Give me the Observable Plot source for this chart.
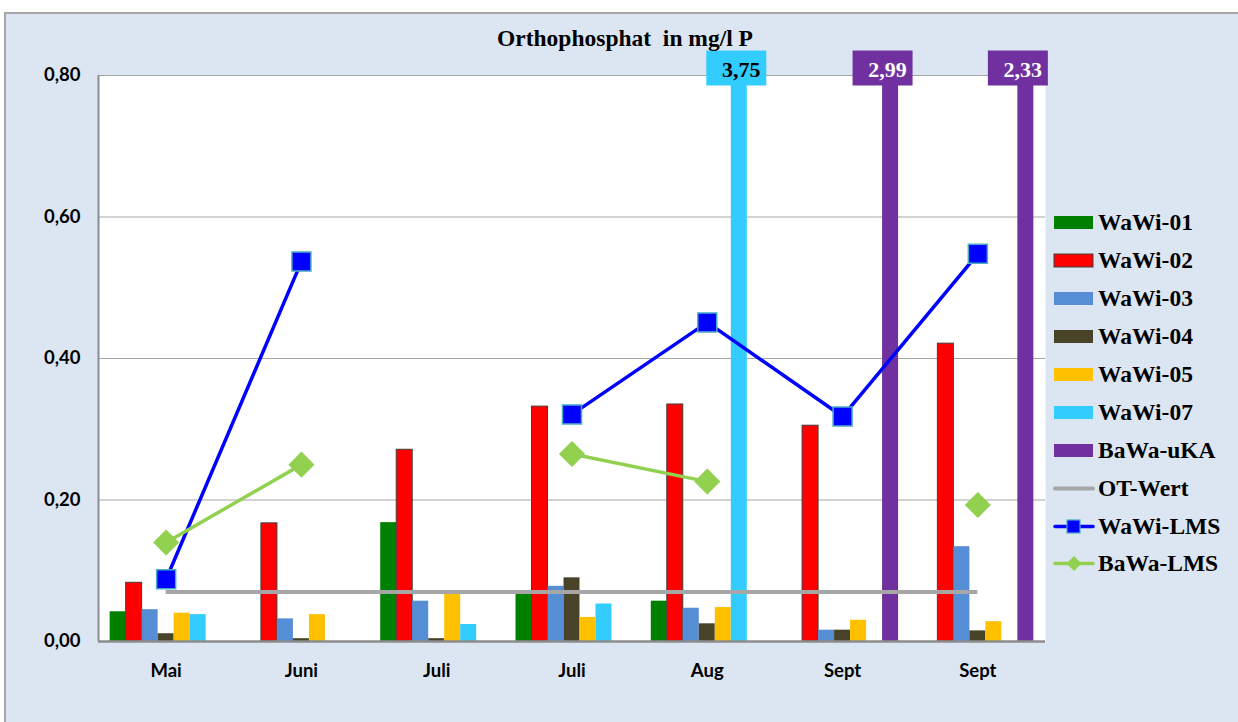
<!DOCTYPE html>
<html><head><meta charset="utf-8">
<script src="https://cdn.jsdelivr.net/npm/d3@7"></script>
<script src="https://cdn.jsdelivr.net/npm/@observablehq/plot@0.6"></script>
<style>
body{margin:0;background:#fff;width:1238px;height:722px;overflow:hidden;position:relative}
#bg{position:absolute;left:4px;top:12px;width:1240px;height:720px;background:#dce6f2;border-left:2px solid #a6a6a6;border-top:2px solid #a6a6a6}
#chart{position:absolute;left:0;top:0}
#title{position:absolute;left:0;width:1250px;top:25px;text-align:center;font:bold 23.5px "Liberation Serif";white-space:pre}
#legend{position:absolute;left:1053px;top:204px;font:bold 23.5px "Liberation Serif";color:#000}
.row{height:37.9px;display:flex;align-items:center}
.row svg{margin-right:3px}
</style></head>
<body>
<div id="bg"></div>
<div id="chart"></div>
<div id="title">Orthophosphat  in mg/l P</div>
<div id="legend"></div>
<script>
const categories = ["Mai", "Juni", "Juli", "Juli", "Aug", "Sept", "Sept"];
const wawi01 = [0.042, null, 0.168, 0.068, 0.057, null, null];
const wawi02 = [0.083, 0.167, 0.271, 0.332, 0.335, 0.305, 0.421];
const wawi03 = [0.045, 0.032, 0.057, 0.078, 0.047, 0.016, 0.134];
const wawi04 = [0.011, 0.004, 0.004, 0.090, 0.025, 0.016, 0.015];
const wawi05 = [0.040, 0.038, 0.067, 0.034, 0.048, 0.030, 0.028];
const wawi07 = [0.038, null, 0.024, 0.053, 3.75, null, null];
const bawaUKA = [null, null, null, null, null, 2.99, 2.33];
const otWert = 0.07;
const wawiLMS = [0.088, 0.537, null, 0.321, 0.451, 0.318, 0.548];
const bawaLMS = [0.14, 0.25, null, 0.265, 0.226, null, 0.193];
const yTicks = [0, 0.2, 0.4, 0.6, 0.8];

const series = [
  {name: "WaWi-01", values: wawi01, fill: "#008000"},
  {name: "WaWi-02", values: wawi02, fill: "#ff0000", stroke: "#404040"},
  {name: "WaWi-03", values: wawi03, fill: "#558ed5"},
  {name: "WaWi-04", values: wawi04, fill: "#494429"},
  {name: "WaWi-05", values: wawi05, fill: "#ffc000"},
  {name: "WaWi-07", values: wawi07, fill: "#33ccff", label: "#000", dx: 0},
  {name: "BaWa-uKA", values: bawaUKA, fill: "#7030a0", label: "#fff", dx: -5}
];
const yMax = 0.8;
const bw = 16 / 135.3;
const nS = series.length;
const fmt = v => v.toFixed(2).replace(".", ",");

const marks = [
  Plot.frame({fill: "white", stroke: null}),
  Plot.gridY(yTicks.filter(d => d > 0), {stroke: "#a6a6a6", strokeOpacity: 1, strokeWidth: 1.2}),
  Plot.axisY({ticks: yTicks, tickFormat: fmt, tickSize: 0, tickPadding: 18, label: null}),
  Plot.axisX({ticks: d3.range(categories.length), tickFormat: i => categories[i], tickSize: 0, tickPadding: 22, label: null})
];

series.forEach((s, j) => {
  const rows = s.values.map((v, i) => ({i, v})).filter(d => d.v != null);
  marks.push(Plot.rectY(rows, {
    x1: d => d.i + (j - nS / 2) * bw,
    x2: d => d.i + (j + 1 - nS / 2) * bw,
    y1: 0, y2: "v",
    fill: s.fill,
    stroke: s.stroke || null, strokeWidth: 1
  }));
});

marks.push(Plot.ruleY([otWert], {x1: 0, x2: categories.length - 1, stroke: "#a6a6a6", strokeWidth: 4}));
marks.push(Plot.ruleX([-0.5], {stroke: "#8c8c8c", strokeWidth: 2}));
marks.push(Plot.ruleY([0], {stroke: "#8c8c8c", strokeWidth: 2.5}));

const squareSym = {draw(ctx) { ctx.rect(-9.5, -9.5, 19, 19); }};
const diamondSym = {draw(ctx) { ctx.moveTo(0, -12); ctx.lineTo(12, 0); ctx.lineTo(0, 12); ctx.lineTo(-12, 0); ctx.closePath(); }};
const boxSym = {draw(ctx) { ctx.rect(-30, -17.5, 60, 35); }};

const lms = [
  {values: wawiLMS, color: "#0000ff", symbol: squareSym, stroke: "#4bacc6"},
  {values: bawaLMS, color: "#92d050", symbol: diamondSym, stroke: "#92d050"}
];
lms.forEach(l => {
  const rows = l.values.map((v, i) => ({i, v}));
  marks.push(Plot.line(rows, {x: "i", y: "v", stroke: l.color, strokeWidth: 3.5}));
  marks.push(Plot.dot(rows.filter(d => d.v != null), {x: "i", y: "v", symbol: l.symbol, fill: l.color, stroke: l.stroke, strokeWidth: 1.5, r: 10}));
});

series.forEach((s, j) => {
  const rows = s.values.map((v, i) => ({i, v})).filter(d => d.v != null && d.v > yMax);
  if (!rows.length) return;
  const xc = d => d.i + (j + 0.5 - nS / 2) * bw;
  marks.push(Plot.dot(rows, {x: xc, y: yMax, dy: -7.5, dx: -3 + s.dx, symbol: boxSym, fill: s.fill, stroke: null, r: 10}));
  marks.push(Plot.text(rows, {x: xc, y: yMax, dy: -6, dx: 2 + s.dx, text: d => fmt(d.v), fill: s.label, fontFamily: "Liberation Serif", fontSize: 22, fontWeight: "bold"}));
});

const chart = Plot.plot({
  width: 1238, height: 722,
  marginLeft: 98, marginRight: 193, marginTop: 75, marginBottom: 81,
  x: {domain: [-0.5, categories.length - 0.5]},
  y: {domain: [0, yMax], clamp: true},
  style: {background: "transparent", fontFamily: "Lato", fontSize: "18.5px", fontWeight: "bold", color: "#000", overflow: "visible"},
  marks
});
document.getElementById("chart").appendChild(chart);

// legend
const leg = document.getElementById("legend");
const ns = "http://www.w3.org/2000/svg";
function swatch(kind, item) {
  let inner = "";
  if (kind === "bar") {
    inner = `<rect x="1" y="4" width="39" height="13" fill="${item.fill}" ${item.stroke ? `stroke="${item.stroke}" stroke-width="1"` : ""}/>`;
  } else if (kind === "ot") {
    inner = `<line x1="2" x2="40" y1="10.5" y2="10.5" stroke="#a6a6a6" stroke-width="4" stroke-linecap="round"/>`;
  } else if (kind === "sq") {
    inner = `<line x1="2" x2="40" y1="10.5" y2="10.5" stroke="#0000ff" stroke-width="3.5" stroke-linecap="round"/><rect x="14" y="4" width="13" height="13" fill="#0000ff" stroke="#4bacc6" stroke-width="1.2"/>`;
  } else {
    inner = `<line x1="2" x2="40" y1="10.5" y2="10.5" stroke="#92d050" stroke-width="3.5" stroke-linecap="round"/><path d="M21,3 L28.5,10.5 L21,18 L13.5,10.5Z" fill="#92d050"/>`;
  }
  return `<svg width="42" height="21" xmlns="${ns}">${inner}</svg>`;
}
const legendItems = [
  ...series.map(s => ({kind: "bar", item: s, name: s.name})),
  {kind: "ot", name: "OT-Wert"},
  {kind: "sq", name: "WaWi-LMS"},
  {kind: "di", name: "BaWa-LMS"}
];
legendItems.forEach(li => {
  const r = document.createElement("div");
  r.className = "row";
  r.innerHTML = swatch(li.kind, li.item || {}) + `<span>${li.name}</span>`;
  leg.appendChild(r);
});
</script>
</body></html>
